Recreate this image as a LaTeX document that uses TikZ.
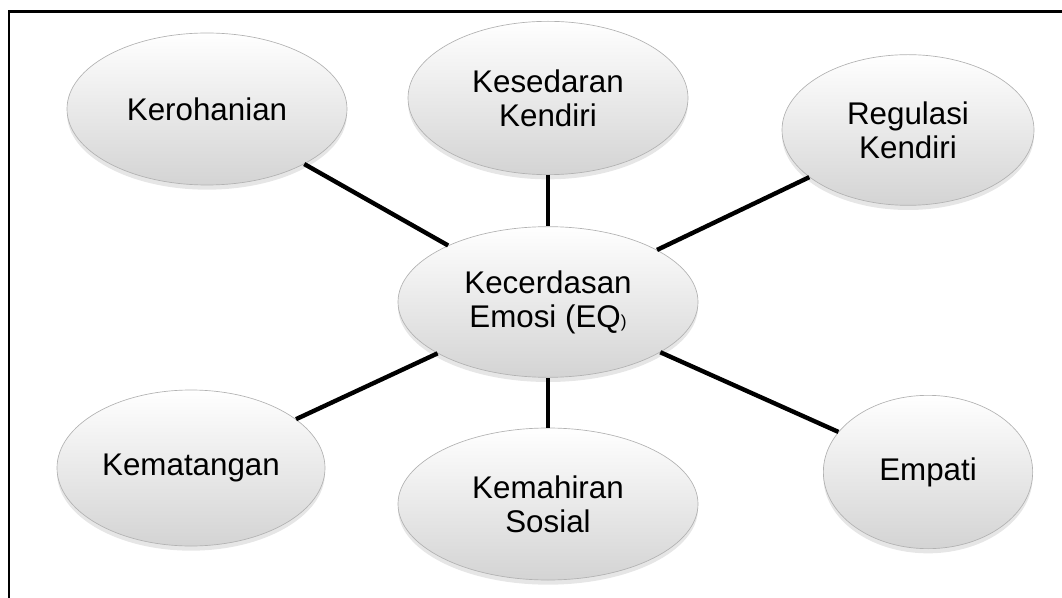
\documentclass[tikz,border=0pt]{standalone}
\usepackage{fontspec}
\setmainfont{Liberation Sans}
\usetikzlibrary{shapes.geometric,shadows}
\tikzset{
	bubble/.style={
		ellipse,
		draw=black!30, line width=0.5pt,
		top color=white,
		middle color=black!4,
		bottom color=black!17,
		drop shadow={opacity=0.2, shadow xshift=0pt, shadow yshift=-3.5pt},
		inner sep=0pt,
		align=center,
		font=\fontsize{23.5}{25.5}\selectfont},
	tie/.style={
		line width=3.3pt,
		black},
	frame/.style={
		line width=2pt,
		black}
}

\begin{document}
\begin{tikzpicture}[x=0.75pt,y=0.75pt,yscale=-1,xscale=1]
\useasboundingbox (0,0) rectangle (1062,598);
\draw[frame] (9,598) |- (1062,11.5);

% Ellipse Node
\node (eq) at (548,302) [bubble, minimum width=225pt, minimum height=113pt] {Kecerdasan\\Emosi (EQ{\fontsize{13}{13}\selectfont )}};
% Ellipse Node
\node (kero) at (207,109) [bubble, minimum width=210pt, minimum height=114pt] {Kerohanian};
% Ellipse Node
\node (sedar) at (548,98) [bubble, minimum width=210pt, minimum height=115pt] {Kesedaran\\Kendiri};
% Ellipse Node
\node (regul) at (908,130) [bubble, minimum width=189pt, minimum height=113pt] {Regulasi\\Kendiri};
% Ellipse Node
\node (matang) at (191,468) [bubble, minimum width=201pt, minimum height=117pt] {Kematangan};
% Ellipse Node
\node (mahir) at (548,504) [bubble, minimum width=225pt, minimum height=114pt] {Kemahiran\\Sosial};
% Ellipse Node
\node (empati) at (928,472) [bubble, minimum width=157pt, minimum height=115pt] {Empati};

\draw[tie] (kero) -- (eq);
\draw[tie] (sedar) -- (eq);
\draw[tie] (regul) -- (eq);
\draw[tie] (matang) -- (eq);
\draw[tie] (mahir) -- (eq);
\draw[tie] (empati) -- (eq);
\end{tikzpicture}
\end{document}
